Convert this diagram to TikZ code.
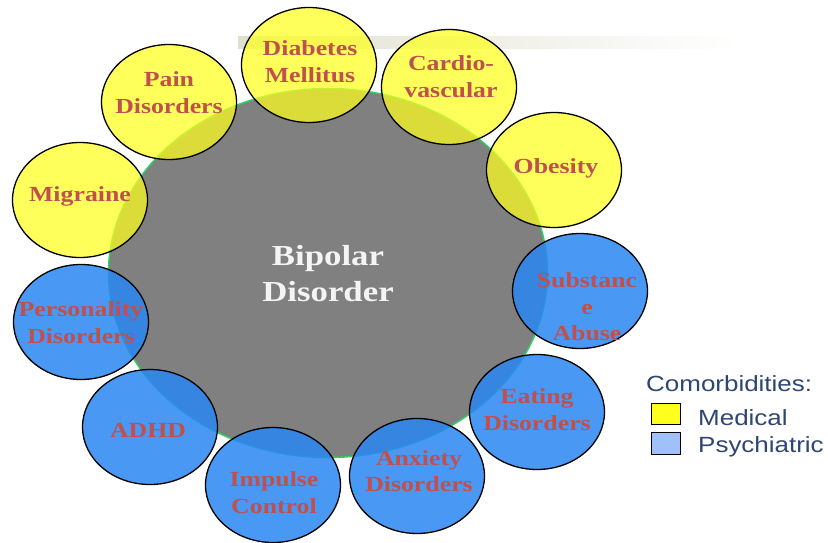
\documentclass[tikz,border=0pt]{standalone}
\usepackage{fontspec}
\usetikzlibrary{shapes.geometric}
\newfontfamily\labfont[FakeStretch=1.2]{Liberation Serif}
\newfontfamily\legfont[FakeStretch=1.18]{Liberation Sans}
\definecolor{labred}{RGB}{192,80,77}
\definecolor{medyel}{RGB}{255,255,30}
\definecolor{psyblue}{RGB}{40,135,243}
\definecolor{coregrey}{RGB}{128,128,128}
\definecolor{coregreen}{RGB}{50,205,100}
\definecolor{legtext}{RGB}{45,70,115}
\definecolor{barbeige}{RGB}{224,224,206}
\definecolor{legblue}{RGB}{160,192,250}
\definecolor{coretext}{RGB}{244,244,244}
\begin{document}
\begin{tikzpicture}[x=1pt,y=-1pt,
  comorb/.style={ellipse, draw=black, line width=1.3pt, minimum width=135pt, minimum height=115pt, inner sep=0pt},
  medical/.style={comorb, fill=medyel, fill opacity=0.72},
  psych/.style={comorb, fill=psyblue, fill opacity=0.85},
  lab/.style={text=labred, align=center, inner sep=0pt, font={\labfont\bfseries\fontsize{21.5}{26.5}\selectfont}},
  corelab/.style={text=coretext, align=center, inner sep=0pt, font={\labfont\bfseries\fontsize{29}{36}\selectfont}},
  legtxt/.style={text=legtext, anchor=base west, inner sep=0pt, font={\legfont\fontsize{22}{26}\selectfont}},
  legkey/.style={draw=black, line width=1.2pt, minimum width=29pt, minimum height=21pt, inner sep=0pt, anchor=north west}]
\useasboundingbox (0,0) rectangle (828,542);
\fill[white] (0,0) rectangle (828,542);
% faint bar
\shade[left color=barbeige, right color=white] (238,36) rectangle (740,48);
% core
\node[ellipse, fill=coregrey, draw=coregreen, line width=1.5pt, minimum width=439pt, minimum height=369pt, inner sep=0pt] (core) at (328,273) {};
% comorbidities
\node[medical] (dm) at (309,65) {};
\node[medical] (pain) at (169,102) {};
\node[medical] (mig) at (80,200) {};
\node[medical] (cardio) at (449,87) {};
\node[medical] (obes) at (554,170) {};
\node[psych] (subst) at (580,291) {};
\node[psych] (eat) at (537,412) {};
\node[psych] (anx) at (417,476) {};
\node[psych] (imp) at (273,485) {};
\node[psych] (adhd) at (150,427) {};
\node[psych] (pers) at (81,322) {};
% labels
\node[corelab] (corel) at (328,273.8) {Bipolar\\Disorder};
\node[lab] (dml) at (310,61.6) {Diabetes\\Mellitus};
\node[lab] (painl) at (169,92.6) {Pain\\Disorders};
\node[lab, anchor=base] (migl) at (80,201) {Migraine};
\node[lab] (cardiol) at (451,76.6) {Cardio-\\vascular};
\node[lab, anchor=base] (obesl) at (556,173) {Obesity};
\node[lab] (substl) at (587,307.1) {Substanc\\e\\Abuse};
\node[lab] (eatl) at (537,409.6) {Eating\\Disorders};
\node[lab] (anxl) at (419,471.1) {Anxiety\\Disorders};
\node[lab] (impl) at (274,492.6) {Impulse\\Control};
\node[lab, anchor=base] (adhdl) at (148,437) {ADHD};
\node[lab] (persl) at (81,322.6) {Personality\\Disorders};
% legend
\node[legtxt] (legtitle) at (646,391) {Comorbidities:};
\node[legkey, fill=medyel] (medkey) at (651,403) {};
\node[legkey, fill=legblue, minimum height=22pt] (psykey) at (651,432) {};
\node[legtxt] (medtxt) at (698,425) {Medical};
\node[legtxt] (psytxt) at (698,452) {Psychiatric};
\end{tikzpicture}
\end{document}
